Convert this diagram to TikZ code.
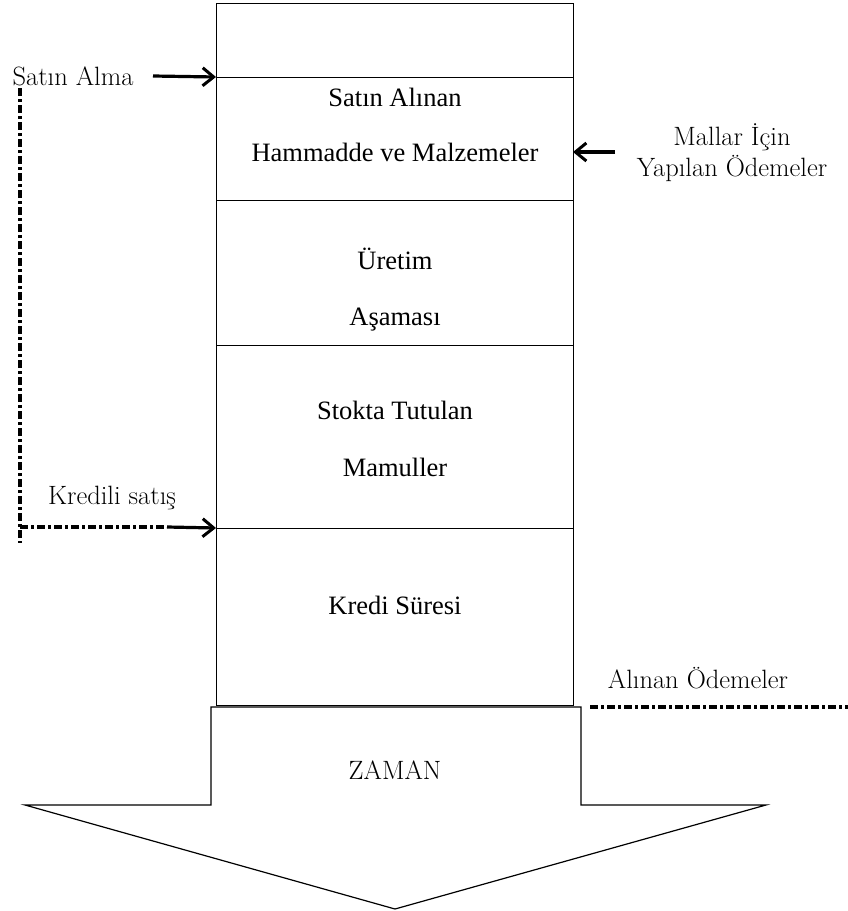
\documentclass[tikz,border=0pt]{standalone}
\usepackage{fontspec}
\newfontfamily\boxfont{Liberation Serif}
\usetikzlibrary{arrows.meta}
\begin{document}
\begin{tikzpicture}[x=1pt,y=-1pt,
  seg/.style={draw, line width=1.2pt, minimum width=357pt, inner sep=0pt, anchor=north west},
  boxtxt/.style={font=\boxfont\fontsize{26.5}{30}\selectfont, inner sep=0pt},
  lbl/.style={font=\fontsize{26.5}{30}\selectfont, inner sep=0pt},
  dd/.style={line width=3.2pt, dash pattern=on 8pt off 3pt on 3pt off 3pt},
  thk/.style={line width=3.2pt, -{Straight Barb[length=11pt,width=18pt,line width=3pt]}}]
\useasboundingbox (0,0) rectangle (848,911);
% main column
\node[seg, minimum height=74pt] (s1) at (216,3) {};
\node[seg, minimum height=123pt] (s2) at (216,77) {};
\node[seg, minimum height=145pt] (s3) at (216,200) {};
\node[seg, minimum height=183pt] (s4) at (216,345) {};
\node[seg, minimum height=177pt] (s5) at (216,528) {};
% box texts
\node[boxtxt] (t1) at (395,97) {Satın Alınan};
\node[boxtxt] (t2) at (395,152) {Hammadde ve Malzemeler};
\node[boxtxt] (t3) at (395,259) {Üretim};
\node[boxtxt] (t4) at (395,320) {Aşaması};
\node[boxtxt] (t5) at (395,410) {Stokta Tutulan};
\node[boxtxt] (t6) at (395,467) {Mamuller};
\node[boxtxt] (t7) at (395,605) {Kredi Süresi};
% down arrow
\coordinate (p1) at (211,707);
\coordinate (p2) at (581,707);
\coordinate (p3) at (581,805);
\coordinate (p4) at (766,805);
\coordinate (p5) at (395,909);
\coordinate (p6) at (25,805);
\coordinate (p7) at (211,805);
\draw[line width=1.2pt, line join=miter] (p1) -- (p2) -- (p3) -- (p4) -- (p5) -- (p6) -- (p7) -- cycle;
\node[lbl] (zaman) at (395,770) {ZAMAN};
% outside labels
\node[lbl] (satin) at (73,76) {Satın Alma};
\node[lbl] (kredili) at (112,498) {Kredili satış};
\node[lbl] (mallar) at (732,137) {Mallar İçin};
\node[lbl] (yapilan) at (732,168) {Yapılan Ödemeler};
\node[lbl] (alinan) at (698,678) {Alınan Ödemeler};
% arrows
\coordinate (a1) at (153,76);
\draw[thk] (a1) -- (s2.north west);
\coordinate (m1) at (615,152);
\coordinate (m2) at (573,152);
\draw[thk] (m1) -- (m2);
\coordinate (d0) at (20,88);
\coordinate (d1) at (20,543);
\coordinate (d2) at (20,527);
\coordinate (d3) at (167,527);
\draw[dd] (d0) -- (d1);
\draw[dd] (d2) -- (d3);
\draw[thk] (d3) -- (s5.north west);
\coordinate (e1) at (590,707);
\coordinate (e2) at (848,707);
\draw[dd] (e1) -- (e2);
\end{tikzpicture}
\end{document}
